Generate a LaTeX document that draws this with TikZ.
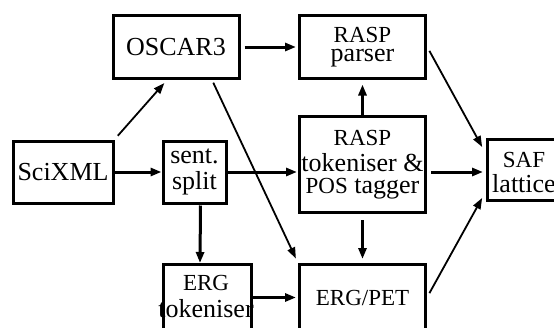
\documentclass[tikz,border=0pt]{standalone}
\usepackage{fontspec}
\setmainfont{Liberation Serif}
\usetikzlibrary{arrows.meta, positioning, calc}

\newcommand{\sm}{\fontsize{23}{23}\selectfont}

\begin{document}
\begin{tikzpicture}[x=1pt, y=1pt,
    >={Triangle[length=11pt, width=8pt]},
    box/.style={rectangle, draw, line width=3pt, minimum width=#1, minimum height=63pt, inner sep=0pt},
    box/.default=126pt,
    lbl/.style={anchor=base, inner sep=0pt, font=\fontsize{26}{26}\selectfont},
    flow/.style={->, line width=3pt},
    feed/.style={->, line width=1.8pt},
]
\useasboundingbox (0,0) rectangle (554,-327);
\clip (0,0) rectangle (554,-327);

\node[box] (oscar) at (176,-47) {};
\node[box] (parser) at (362.5,-46.5) {};
\node[box=100pt, minimum height=62pt] (scixml) at (63,-172) {};
\node[box=63pt, minimum height=62pt] (split) at (194.5,-172) {};
\node[box, minimum height=96pt] (rtok) at (362.5,-164.5) {};
\node[box=72pt, minimum height=61pt] (saf) at (523.5,-170) {};
\node[box=88pt, minimum height=66pt] (etok) at (207,-297.5) {};
\node[box, minimum height=66pt] (pet) at (362.5,-297.5) {};

% labels, one per line
\node[lbl] (oscar-t) at (176,-55) {OSCAR3};
\node[lbl] (parser-a) at (362.5,-42) {\sm RASP};
\node[lbl] (parser-b) at (362.5,-61) {parser};
\node[lbl] (scixml-t) at (63,-180) {SciXML};
\node[lbl] (split-a) at (194.5,-163) {sent.};
\node[lbl] (split-b) at (194.5,-189) {split};
\node[lbl] (rtok-a) at (362.5,-145) {\sm RASP};
\node[lbl] (rtok-b) at (362.5,-171) {tokeniser \&};
\node[lbl] (rtok-c) at (362.5,-193) {{\sm POS} tagger};
\node[lbl] (saf-a) at (524,-167) {\sm SAF};
\node[lbl] (saf-b) at (524,-192) {lattice};
\node[lbl] (etok-a) at (206,-290) {\sm ERG};
\node[lbl] (etok-b) at (206,-317) {tokeniser};
\node[lbl] (pet-t) at (362.5,-305) {\sm ERG/PET};

\draw[flow] (scixml.east) -- (split.west);
\draw[flow, shorten >=1pt] (split.east) -- (split.east -| rtok.west);
\draw[flow, shorten <=1pt] ([xshift=6pt]split.south) -- ([xshift=-7pt]etok.north);
\draw[flow, shorten >=2pt] (etok.east) -- (pet.west);
\draw[flow, shorten >=5pt] (rtok.north) -- (parser.south);
\draw[flow, shorten <=6pt, shorten >=4pt] (rtok.south) -- (pet.north);
\draw[flow, shorten <=4pt, shorten >=3pt] (rtok.east |- split.east) -- (saf.west |- split.east);
\draw[flow, shorten <=4pt, shorten >=2pt] (oscar.east) -- (oscar.east -| parser.west);

\draw[feed, shorten <=5pt, shorten >=4pt] (scixml.north east) -- ([xshift=-9pt]oscar.south);
\draw[feed, shorten <=3pt, shorten >=5pt] ([xshift=36pt]oscar.south) -- (pet.north west);
\draw[feed, shorten <=5pt, shorten >=8pt] (parser.east) -- ([yshift=16pt]saf.west);
\draw[feed, shorten <=5pt, shorten >=8pt] (pet.east) -- ([yshift=-21pt]saf.west);
\end{tikzpicture}
\end{document}
